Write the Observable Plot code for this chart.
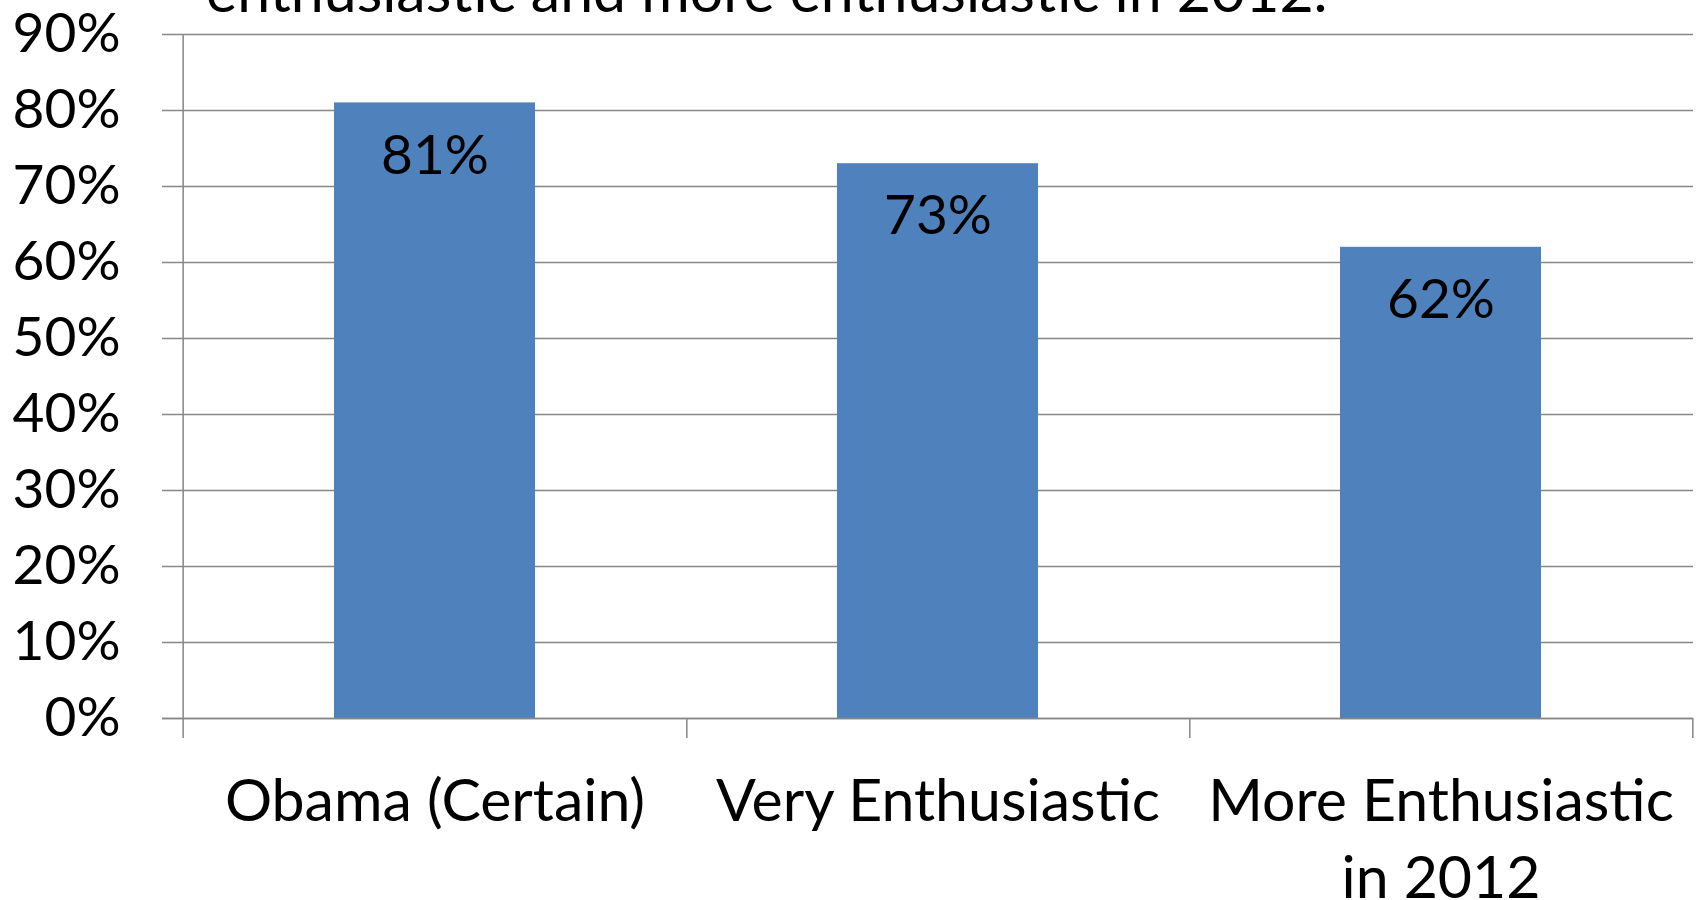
<!DOCTYPE html>
<html><head><meta charset="utf-8">
<script src="https://cdn.jsdelivr.net/npm/d3@7"></script>
<script src="https://cdn.jsdelivr.net/npm/@observablehq/plot@0.6"></script>
<style>
body{margin:0;background:#fff;overflow:hidden}
#wrap{position:relative;width:1700px;height:900px;overflow:hidden}
#title{position:absolute;left:206px;top:-40px;font-family:Lato,sans-serif;font-size:59px;line-height:1;white-space:nowrap;color:#000}
</style></head><body>
<div id="wrap"><div id="chart"></div><div id="title">enthusiastic and more enthusiastic in 2012.</div></div>
<script>
const categories = ["Obama (Certain)", "Very Enthusiastic", "More Enthusiastic in 2012"];
const tickLabels = ["Obama (Certain)", "Very Enthusiastic", "More Enthusiastic\nin 2012"];
const values = [0.81, 0.73, 0.62];
const valueLabels = ["81%", "73%", "62%"];
const yTicks = [0, 0.1, 0.2, 0.3, 0.4, 0.5, 0.6, 0.7, 0.8, 0.9];
const yTickLabels = ["0%", "10%", "20%", "30%", "40%", "50%", "60%", "70%", "80%", "90%"];

const W = 1700, H = 900, ML = 182, MR = 7, MT = 34, MB = 182;
const step = (W - ML - MR) / categories.length;
const FS = 55;      // numeric labels
const FSX = 59;     // category labels
const grid = "#878787";
const data = categories.map((c, i) => ({category: c, value: values[i], label: valueLabels[i]}));

const chart = Plot.plot({
  width: W, height: H,
  marginLeft: ML, marginRight: MR, marginTop: MT, marginBottom: MB,
  style: {fontFamily: "Lato, sans-serif", background: "#fff", overflow: "visible"},
  x: {domain: categories, paddingInner: 0.6, paddingOuter: 0.3},
  y: {domain: [0, 0.9]},
  marks: [
    Plot.ruleY(yTicks, {y: d => d, stroke: grid, strokeWidth: 1.5, insetLeft: -20}),
    Plot.barY(data, {x: "category", y: "value", fill: "#4F81BD"}),
    Plot.ruleY([0], {y: d => d, stroke: grid, strokeWidth: 1.5, insetLeft: -20}),
    Plot.ruleX([categories[0]], {x: d => d, y1: 0.9, y2: 0, dx: -step / 2, insetBottom: -20, stroke: grid, strokeWidth: 1.5}),
    Plot.ruleX(categories, {x: d => d, y1: 0, y2: 0, dx: step / 2, insetBottom: -20, stroke: grid, strokeWidth: 1.5}),
    Plot.text(data, {x: "category", y: "value", text: "label", dy: 53, fontSize: FS, fill: "#000"}),
    Plot.axisY({ticks: yTicks, tickFormat: d => yTickLabels[yTicks.indexOf(d)], tickSize: 0, tickPadding: 62, fontSize: FS, label: null, fill: "#000"}),
    Plot.axisX({tickSize: 0, tickPadding: 48, fontSize: FSX, lineHeight: 1.3, label: null, fill: "#000",
      tickFormat: d => tickLabels[categories.indexOf(d)]})
  ]
});
document.getElementById("chart").appendChild(chart);
</script>
</body></html>
